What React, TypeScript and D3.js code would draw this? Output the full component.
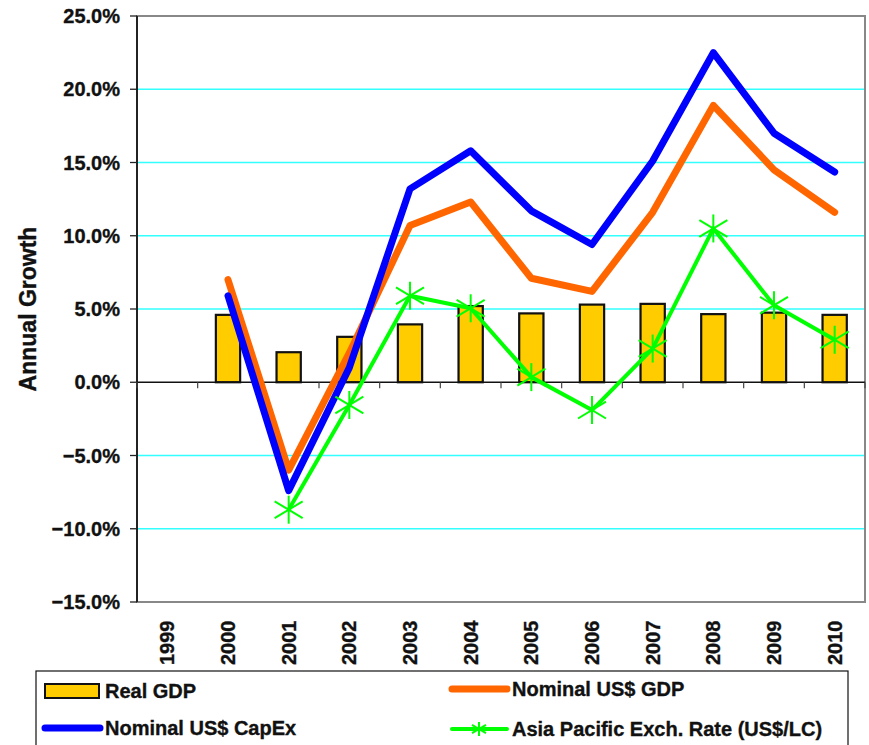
import React from "react";
import * as d3 from "d3";

const years = ["1999","2000","2001","2002","2003","2004","2005","2006","2007","2008","2009","2010"];
const realGdp = [null, 4.6, 2.05, 3.1, 3.95, 5.2, 4.7, 5.3, 5.35, 4.65, 4.75, 4.6];
const nominalGdp = [null, 7.0, -6.0, 2.0, 10.7, 12.3, 7.1, 6.2, 11.6, 18.9, 14.5, 11.6];
const nominalCapex = [null, 5.9, -7.4, 1.0, 13.2, 15.8, 11.7, 9.4, 15.1, 22.5, 17.0, 14.35];
const asiaFx = [null, null, -8.7, -1.55, 5.9, 5.05, 0.35, -1.9, 2.3, 10.5, 5.25, 2.9];
const yTicks = [-15, -10, -5, 0, 5, 10, 15, 20, 25];

const font = "'Liberation Sans', Arial, sans-serif";
const W = 869;
const H = 745;
const left = 137;
const right = 865;
const top = 16;
const bottom = 602;

// bold text, slightly heavier like the original
const txt = { fontFamily: font, fontWeight: "bold", fill: "#111", stroke: "#111", strokeWidth: 0.35 };

const Asterisk = ({ x, y, r, color, sw }) => (
  <g stroke={color} strokeWidth={sw} fill="none">
    <line x1={x} y1={y - r} x2={x} y2={y + r} />
    <line x1={x - r} y1={y - r * 0.6} x2={x + r} y2={y + r * 0.6} />
    <line x1={x - r} y1={y + r * 0.6} x2={x + r} y2={y - r * 0.6} />
  </g>
);

const App = () => {
  const x = d3.scaleBand().domain(years).range([left, right]).padding(0);
  const y = d3.scaleLinear().domain([-15, 25]).range([bottom, top]);
  const cx = (yr) => x(yr) + x.bandwidth() / 2;
  const barW = x.bandwidth() * 0.4;
  const fmt = d3.format(".1f");

  const mkLine = (vals) =>
    d3
      .line()
      .defined((d) => d != null)
      .x((d, i) => cx(years[i]))
      .y((d) => y(d))(vals);

  const boundaries = years.map((yr) => x(yr)).concat([right]);

  return (
    <svg width={W} height={H} style={{ position: "absolute", left: 0, top: 0 }}>
      <rect width={W} height={H} fill="white" />
      {/* grid */}
      {yTicks.filter((t) => t !== 0 && t !== 25 && t !== -15).map((t) => (
        <line key={t} x1={left} x2={right} y1={y(t)} y2={y(t)} stroke="#33FFFF" strokeWidth={1.3} />
      ))}
      {/* plot border */}
      <rect x={left} y={top} width={right - left} height={bottom - top} fill="none" stroke="#888" strokeWidth={2} />
      {/* y axis */}
      <line x1={left} x2={left} y1={top} y2={bottom} stroke="#222" strokeWidth={2} />
      {yTicks.map((t) => (
        <g key={t}>
          <line x1={left - 7} x2={left} y1={y(t)} y2={y(t)} stroke="#222" strokeWidth={1.3} />
          <text x={120} y={y(t)} textAnchor="end" dominantBaseline="central" fontSize={20} {...txt}>
            {fmt(t)}%
          </text>
        </g>
      ))}
      <text transform={`translate(36, 309) rotate(-90)`} textAnchor="middle" fontSize={23} {...txt}>
        Annual Growth
      </text>
      {/* bars */}
      {realGdp.map((v, i) =>
        v == null ? null : (
          <rect
            key={i}
            x={cx(years[i]) - barW / 2}
            y={y(v)}
            width={barW}
            height={y(0) - y(v)}
            fill="#FFCC00"
            stroke="#111"
            strokeWidth={2.2}
          />
        )
      )}
      {/* zero line */}
      <line x1={left} x2={right} y1={y(0)} y2={y(0)} stroke="#111" strokeWidth={1.5} />
      {boundaries.map((b, i) => (
        <line key={i} x1={b} x2={b} y1={y(0)} y2={y(0) + 6} stroke="#444" strokeWidth={1.2} />
      ))}
      {/* lines */}
      <path d={mkLine(nominalGdp)} fill="none" stroke="#FF6600" strokeWidth={7} strokeLinejoin="round" strokeLinecap="round" />
      <path d={mkLine(nominalCapex)} fill="none" stroke="#0000FF" strokeWidth={7} strokeLinejoin="round" strokeLinecap="round" />
      <path d={mkLine(asiaFx)} fill="none" stroke="#00FF00" strokeWidth={4} strokeLinejoin="round" />
      {asiaFx.map((v, i) =>
        v == null ? null : <Asterisk key={i} x={cx(years[i])} y={y(v)} r={14} color="#00FF00" sw={2} />
      )}
      {/* x labels */}
      {years.map((yr) => (
        <text
          key={yr}
          transform={`translate(${cx(yr)}, 665) rotate(-90)`}
          textAnchor="start"
          dominantBaseline="central"
          fontSize={20}
          {...txt}
        >
          {yr}
        </text>
      ))}
      {/* legend */}
      <rect x={36} y={671} width={812} height={100} fill="white" stroke="#111" strokeWidth={1.2} />
      <rect x={45} y={684} width={54} height={14} fill="#FFCC00" stroke="#111" strokeWidth={2} />
      <text x={105} y={698} fontSize={20} {...txt}>Real GDP</text>
      <line x1={45} x2={100} y1={728} y2={728} stroke="#0000FF" strokeWidth={7} strokeLinecap="round" />
      <text x={105} y={735} fontSize={20} {...txt}>Nominal US$ CapEx</text>
      <line x1={452} x2={507} y1={689} y2={689} stroke="#FF6600" strokeWidth={7} strokeLinecap="round" />
      <text x={512} y={696} fontSize={20} {...txt}>Nominal US$ GDP</text>
      <line x1={452} x2={507} y1={729} y2={729} stroke="#00FF00" strokeWidth={4} strokeLinecap="round" />
      <Asterisk x={479} y={729} r={7} color="#00FF00" sw={2} />
      <text x={512} y={736} fontSize={20} {...txt}>Asia Pacific Exch. Rate (US$/LC)</text>
    </svg>
  );
};

export default App;
